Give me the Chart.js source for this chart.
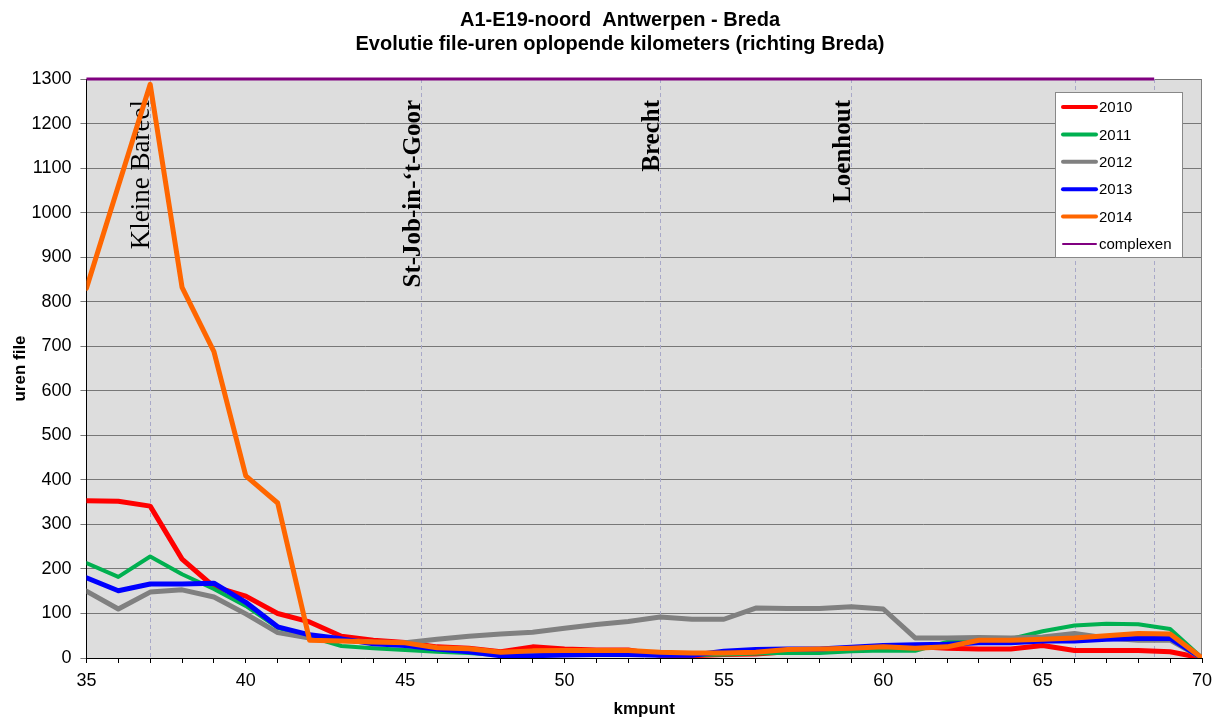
<!DOCTYPE html>
<html>
<head>
<meta charset="utf-8">
<script src="https://cdn.jsdelivr.net/npm/chart.js@4/dist/chart.umd.min.js"></script>
<style>
  html, body { margin: 0; padding: 0; background: #fff; }
  canvas { display: block; }
</style>
</head>
<body>
<canvas id="chart" width="1212" height="720"></canvas>
<script>
// kilometre points along the A1-E19 (Antwerpen -> Breda)
const km = [35,36,37,38,39,40,41,42,43,44,45,46,47,48,49,50,51,52,53,54,55,56,57,58,59,60,61,62,63,64,65,66,67,68,69,70];

// hours of congestion per kilometre point, per year
const uren2010 = [353,352,341,222,160,139,100,81,49,40,35,25,22,14,25,20,18,18,6,5,8,9,14,18,20,24,26,22,20,20,28,17,17,17,14,0];
const uren2011 = [213,182,228,188,155,117,68,48,27,22,18,14,11,6,5,8,8,9,8,7,8,10,12,11,15,17,16,36,38,43,60,73,77,76,65,0];
const uren2012 = [150,110,148,153,137,99,57,45,40,36,34,42,49,54,58,67,75,82,92,87,87,112,111,111,115,110,45,45,46,45,47,55,45,40,40,0];
const uren2013 = [180,151,166,166,168,125,70,52,43,32,28,20,14,5,5,7,8,8,6,6,15,19,20,20,24,28,30,31,34,34,38,38,42,44,44,0];
const uren2014 = [830,1060,1288,832,688,409,348,40,38,36,34,23,21,13,16,17,17,17,13,11,11,13,19,20,22,25,22,25,40,40,42,45,50,55,54,0];

// "complexen" reference line at the top of the scale
const complexenKm = [35, 68.5];
const complexenUren = [1300, 1300];

// landmarks along the road
const plaatsKm = [37, 45.5, 53, 59];
const plaatsNamen = ['Kleine Bareel', 'St-Job-in-\u2018t-Goor', 'Brecht', 'Loenhout'];
// extra dashed markers without a name
const extraMarkerKm = [66, 68.5];

const yTicks = { min: 0, max: 1300, step: 100 };
const xTicks = { min: 35, max: 70, step: 1, labelEvery: 5 };

const titleLines = ['A1-E19-noord  Antwerpen - Breda', 'Evolutie file-uren oplopende kilometers (richting Breda)'];

const pts = (xs, ys) => xs.map((x, i) => ({ x: x, y: ys[i] }));

const series = [
  { label: '2010', data: uren2010, color: '#FF0000', width: 5 },
  { label: '2011', data: uren2011, color: '#00B050', width: 4 },
  { label: '2012', data: uren2012, color: '#808080', width: 5 },
  { label: '2013', data: uren2013, color: '#0000FF', width: 5 },
  { label: '2014', data: uren2014, color: '#FF6600', width: 5 }
];

const datasets = series.map((s, i) => ({
  label: s.label,
  data: pts(km, s.data),
  borderColor: s.color,
  backgroundColor: s.color,
  borderWidth: s.width,
  pointRadius: 0,
  tension: 0,
  borderJoinStyle: 'round',
  borderCapStyle: 'round',
  order: series.length - i + 1
}));
datasets.push({
  label: 'complexen',
  data: pts(complexenKm, complexenUren),
  borderColor: '#800080',
  backgroundColor: '#800080',
  borderWidth: 3,
  pointRadius: 0,
  clip: 4,
  order: 0
});

const decorPlugin = {
  id: 'decor',
  beforeDraw(chart) {
    const { ctx, chartArea: a } = chart;
    ctx.save();
    ctx.fillStyle = '#ffffff';
    ctx.fillRect(0, 0, chart.width, chart.height);
    ctx.fillStyle = '#DDDDDD';
    ctx.fillRect(a.left, a.top, a.right - a.left, a.bottom - a.top);
    ctx.restore();
  },
  beforeDatasetsDraw(chart) {
    const { ctx, chartArea: a, scales } = chart;
    const xs = scales.x;
    ctx.save();
    // dashed landmark lines
    ctx.strokeStyle = '#A8A8C8';
    ctx.lineWidth = 1;
    ctx.setLineDash([4, 3]);
    plaatsKm.concat(extraMarkerKm).forEach(k => {
      const px = Math.round(xs.getPixelForValue(k)) + 0.5;
      ctx.beginPath();
      ctx.moveTo(px, a.top);
      ctx.lineTo(px, a.bottom);
      ctx.stroke();
    });
    ctx.setLineDash([]);
    // right border of the plot area
    ctx.strokeStyle = '#808080';
    ctx.beginPath();
    ctx.moveTo(a.right - 0.5, a.top);
    ctx.lineTo(a.right - 0.5, a.bottom);
    ctx.stroke();
    // landmark names, written upwards next to their line
    ctx.fillStyle = '#000';
    ctx.textAlign = 'right';
    ctx.textBaseline = 'alphabetic';
    plaatsKm.forEach((k, i) => {
      const px = xs.getPixelForValue(k);
      ctx.save();
      ctx.translate(px - 1, a.top + 21);
      ctx.rotate(-Math.PI / 2);
      ctx.font = i === 0 ? '27px "Liberation Serif"' : 'bold 25px "Liberation Serif"';
      ctx.fillText(plaatsNamen[i], 0, 0);
      ctx.restore();
    });
    ctx.restore();
  },
  afterDraw(chart) {
    const { ctx } = chart;
    ctx.save();
    // title
    ctx.fillStyle = '#000';
    ctx.textAlign = 'center';
    ctx.textBaseline = 'middle';
    ctx.font = 'bold 20px "Liberation Sans"';
    ctx.fillText(titleLines[0], 620, 20);
    ctx.fillText(titleLines[1], 620, 44);

    // legend
    const lx = 1055.5, ly = 92.5, lw = 127, lh = 165;
    ctx.fillStyle = '#ffffff';
    ctx.fillRect(lx, ly, lw, lh);
    ctx.strokeStyle = '#888';
    ctx.lineWidth = 1;
    ctx.strokeRect(lx, ly, lw, lh);
    ctx.font = '15px "Liberation Sans"';
    ctx.textAlign = 'left';
    ctx.textBaseline = 'middle';
    const entries = series.map(s => ({ label: s.label, color: s.color, width: 4 }))
      .concat([{ label: 'complexen', color: '#800080', width: 2 }]);
    entries.forEach((e, i) => {
      const cy = 107 + i * 27.4;
      ctx.strokeStyle = e.color;
      ctx.lineWidth = e.width;
      ctx.lineCap = 'round';
      ctx.beginPath();
      ctx.moveTo(1063, cy);
      ctx.lineTo(1096, cy);
      ctx.stroke();
      ctx.fillStyle = '#000';
      ctx.fillText(e.label, 1099, cy + 1);
    });
    ctx.restore();
  }
};

new Chart(document.getElementById('chart'), {
  type: 'line',
  data: { datasets: datasets },
  plugins: [decorPlugin],
  options: {
    responsive: false,
    devicePixelRatio: 1,
    animation: false,
    events: [],
    layout: { padding: { top: 79, left: 10, right: 0, bottom: 0 } },
    plugins: {
      legend: { display: false },
      tooltip: { enabled: false },
      title: { display: false }
    },
    scales: {
      x: {
        type: 'linear',
        min: xTicks.min,
        max: xTicks.max,
        afterFit: scale => { scale.paddingRight = 10; },
        ticks: {
          stepSize: xTicks.step,
          autoSkip: false,
          maxRotation: 0,
          color: '#000',
          padding: 7,
          font: { family: 'Liberation Sans', size: 18 },
          callback: v => (v % xTicks.labelEvery === 0 ? String(v) : '')
        },
        grid: { drawOnChartArea: false, drawTicks: true, tickLength: 5, color: '#000' },
        border: { display: true, color: '#000', width: 1 },
        title: {
          display: true,
          text: 'kmpunt',
          color: '#000',
          font: { family: 'Liberation Sans', size: 17, weight: 'bold' },
          padding: { top: 1, bottom: 0 }
        }
      },
      y: {
        min: yTicks.min,
        max: yTicks.max,
        ticks: {
          stepSize: yTicks.step,
          color: '#000',
          padding: 9,
          font: { family: 'Liberation Sans', size: 18 },
          callback: v => String(v)
        },
        grid: { color: '#777', tickColor: '#777', tickLength: 6, drawTicks: true },
        border: { display: true, color: '#000', width: 1 },
        title: {
          display: true,
          text: 'uren file',
          color: '#000',
          font: { family: 'Liberation Sans', size: 17, weight: 'bold' },
          padding: { top: 0, bottom: -8 }
        }
      }
    }
  }
});
</script>
</body>
</html>
